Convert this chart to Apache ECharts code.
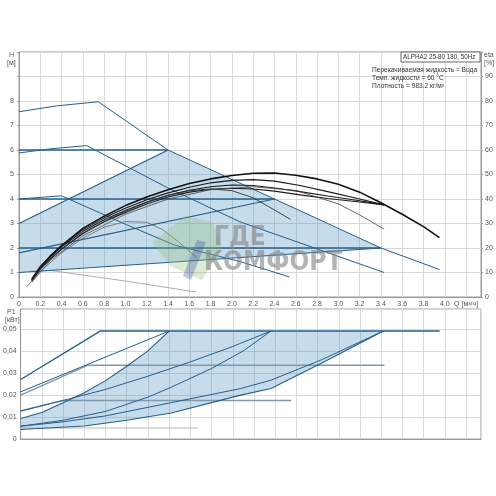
<!DOCTYPE html>
<html>
<head>
<meta charset="utf-8">
<script src="https://cdn.jsdelivr.net/npm/echarts@6/dist/echarts.min.js"></script>
<style>
  html, body { margin: 0; padding: 0; background: #fff; }
  #main { width: 496px; height: 496px; }
</style>
</head>
<body>
<div id="main"></div>
<script>
// Q in m3/h, H in m, eta in %, P1 in kW
const curveIII = [[0, 7.56], [0.35, 7.8], [0.745, 7.97], [1.4, 6.0], [3.4, 2.0], [3.95, 1.12]];
const curveII = [[0, 5.88], [0.3, 6.05], [0.635, 6.18], [1.4, 4.45], [2.075, 3.07], [3.43, 1.0]];
const curveI = [[0, 4.0], [0.4, 4.13], [1.0, 2.97], [1.46, 2.12], [2.075, 1.45], [2.54, 0.82]];
const curveMin = [[0.1, 1.05], [0.3, 1.08], [1.0, 0.65], [1.67, 0.2]];
const cp3 = [[0, 6], [1.4, 6]];
const cp2 = [[0, 4], [2.4, 4]];
const cp1 = [[0, 2], [3.4, 2]];
const pp3 = [[0, 3], [1.4, 6]];
const pp2 = [[0, 1.8], [2.4, 4.0]];
const pp1 = [[0, 1], [3.4, 2]];
const autoArea = [[0, 1], [0, 3], [1.4, 6], [3.4, 2]];

const etaIII = [[0.12, 7], [0.2, 12], [0.3, 17], [0.4, 21], [0.6, 28], [0.8, 33], [1.0, 37.3], [1.2, 40.8], [1.4, 43.8], [1.6, 46.3], [1.8, 48.2], [2.0, 49.6], [2.2, 50.5], [2.4, 50.6], [2.6, 49.7], [2.8, 48.2], [3.0, 46], [3.2, 42.8], [3.4, 38.5], [3.6, 33.8], [3.8, 28.7], [3.95, 24.2]];
const etaA = [[0.12, 7.5], [0.2, 12.5], [0.3, 17], [0.4, 21], [0.6, 27.5], [0.8, 32.3], [1.0, 36.2], [1.2, 39.7], [1.4, 42.5], [1.6, 44.8], [1.8, 46.6], [2.0, 47.6], [2.2, 47.9], [2.4, 47.3], [2.64, 45.5], [2.9, 43], [3.2, 40], [3.43, 37.6]];
const etaB = [[0.12, 7], [0.2, 12], [0.3, 16.5], [0.4, 20.5], [0.6, 26.8], [0.8, 31.5], [1.0, 35.3], [1.2, 38.8], [1.4, 41.5], [1.6, 43.6], [1.8, 45], [2.0, 45.7], [2.2, 45.5], [2.4, 44.5], [2.64, 43], [2.9, 41.2], [3.2, 39.3], [3.43, 37.6]];
const etaC = [[0.12, 6.5], [0.2, 11.5], [0.3, 15.8], [0.4, 19.6], [0.6, 26], [0.8, 30.7], [1.0, 34.5], [1.2, 38], [1.4, 40.8], [1.6, 42.8], [1.8, 44], [2.0, 44.4], [2.2, 44.1], [2.4, 43.2], [2.64, 41.7], [2.9, 40.2], [3.2, 38.8], [3.43, 37.6]];
const etaI = [[0.12, 6.5], [0.2, 11.3], [0.3, 15.6], [0.4, 19.4], [0.6, 25.8], [0.8, 30.8], [1.0, 35], [1.2, 38.6], [1.4, 41.4], [1.6, 43.4], [1.8, 44.1], [2.0, 43.4], [2.2, 40.5], [2.4, 35.5], [2.55, 31.7]];
const etaII = [[0.12, 6], [0.3, 15.2], [0.6, 25], [1.0, 33.8], [1.4, 40], [1.8, 43.8], [2.2, 45], [2.6, 43.5], [3.0, 38], [3.2, 33.5], [3.43, 27.7]];
const etaMin = [[0.07, 4], [0.2, 10.5], [0.4, 18], [0.6, 24], [0.8, 28.5], [1.0, 30.8], [1.2, 30.5], [1.35, 27.5], [1.5, 22.5], [1.67, 16]];

const pIII = [[0, 0.027], [0.75, 0.049], [3.95, 0.049]];
const pII = [[0, 0.0199], [0.635, 0.0335], [3.43, 0.0335]];
const pI = [[0, 0.0127], [0.4, 0.0175], [2.55, 0.0175]];
const pMin = [[0, 0.005], [1.67, 0.005]];
const pCp3 = [[0, 0.0214], [1.4, 0.049]];
const pPp3 = [[0, 0.0093], [0.2, 0.012], [0.4, 0.0165], [0.6, 0.021], [0.8, 0.0265], [1.0, 0.033], [1.2, 0.040], [1.4, 0.049]];
const pCp2 = [[0, 0.0127], [0.4, 0.0175], [0.8, 0.0225], [1.2, 0.0285], [1.6, 0.035], [2.0, 0.042], [2.36, 0.049]];
const pPp2 = [[0, 0.0058], [0.4, 0.0085], [0.8, 0.0125], [1.2, 0.019], [1.42, 0.0235], [1.8, 0.032], [2.1, 0.040], [2.36, 0.049]];
const pCp1 = [[0, 0.0058], [0.4, 0.0078], [0.8, 0.0105], [1.42, 0.0165], [2.075, 0.0229], [2.36, 0.0267], [2.83, 0.0358], [3.42, 0.049]];
const pPp1 = [[0, 0.0043], [0.6, 0.0059], [1.0, 0.0085], [1.42, 0.0118], [2.075, 0.0199], [2.36, 0.0229], [2.83, 0.0343], [3.42, 0.049]];
const powerArea = pPp3.concat([[3.42, 0.049]], pPp1.slice().reverse());

const blue = '#245f8c';
const fill = 'rgba(70,140,190,0.3)';
const gridCol = '#d9d9d9';
const axisCol = '#9a9a9a';
const lab = { fontSize: 7, color: '#555', fontFamily: 'Liberation Sans' };

function line(data, color, width, xi, yi, z) {
  return { type: 'line', data: data, xAxisIndex: xi, yAxisIndex: yi, symbol: 'none', silent: true,
    lineStyle: { color: color, width: width }, z: z || 3 };
}
function poly(data, xi, yi) {
  return { type: 'custom', xAxisIndex: xi, yAxisIndex: yi, data: [0], silent: true, z: 1,
    renderItem: (params, api) => ({ type: 'polygon', shape: { points: data.map(p => api.coord(p)) },
      style: { fill: fill } }) };
}
const qLabel = v => {
  const r = Math.round(v * 10) / 10;
  if (Math.abs(v - r) > 1e-6) return '';
  if (Math.abs(r - 4.2) < 1e-6) return 'Q [м³/ч]';
  return r === 0 ? '0' : r.toFixed(1);
};

const chart = echarts.init(document.getElementById('main'), null, { renderer: 'canvas' });
chart.setOption({
  animation: false,
  backgroundColor: '#fff',
  grid: [
    { left: 19, top: 52, right: 15, height: 245, show: true, borderColor: axisCol, borderWidth: 1 },
    { left: 19, top: 309, right: 15, height: 130, show: true, borderColor: axisCol, borderWidth: 1 }
  ],
  xAxis: [
    { gridIndex: 0, type: 'value', min: 0, max: 4.34, interval: 0.2,
      axisLine: { lineStyle: { color: axisCol } }, axisTick: { show: false },
      splitLine: { lineStyle: { color: gridCol } },
      axisLabel: Object.assign({ margin: 4, formatter: qLabel }, lab) },
    { gridIndex: 1, type: 'value', min: 0, max: 4.34, interval: 0.2,
      axisLine: { lineStyle: { color: axisCol } }, axisTick: { show: false },
      splitLine: { lineStyle: { color: gridCol } }, axisLabel: { show: false } }
  ],
  yAxis: [
    { gridIndex: 0, type: 'value', min: 0, max: 10, interval: 1,
      axisLine: { show: true, lineStyle: { color: axisCol } },
      axisTick: { show: true, length: 2, lineStyle: { color: axisCol } },
      splitLine: { lineStyle: { color: gridCol } },
      axisLabel: Object.assign({ margin: 5, formatter: v => (v <= 8 ? String(v) : '') }, lab) },
    { gridIndex: 0, type: 'value', position: 'right', min: 0, max: 100, interval: 10,
      axisLine: { show: true, lineStyle: { color: axisCol } },
      axisTick: { show: true, length: 2, lineStyle: { color: axisCol } },
      splitLine: { show: false },
      axisLabel: Object.assign({ margin: 4, formatter: v => (v <= 90 ? String(v) : '') }, lab) },
    { gridIndex: 1, type: 'value', min: 0, max: 0.059, interval: 0.01,
      axisLine: { show: true, lineStyle: { color: axisCol } },
      axisTick: { show: false },
      splitLine: { lineStyle: { color: gridCol } },
      axisLabel: Object.assign({ margin: 4, formatter: v => {
        const r = Math.round(v * 100) / 100;
        if (Math.abs(v - r) > 1e-7 || r > 0.05) return '';
        return r === 0 ? '0' : r.toFixed(2).replace('.', ',');
      } }, lab) }
  ],
  series: [
    poly(autoArea, 0, 0),
    poly(powerArea, 1, 2),
    line(curveIII, blue, 1, 0, 0),
    line(curveII, blue, 1, 0, 0),
    line(curveI, blue, 1, 0, 0),
    line(curveMin, '#8f9aa3', 0.8, 0, 0),
    line(cp3, blue, 1.6, 0, 0),
    line(cp2, blue, 1.6, 0, 0),
    line(cp1, blue, 1.6, 0, 0),
    line(pp3, blue, 1.2, 0, 0),
    line(pp2, blue, 1.2, 0, 0),
    line(pp1, blue, 1.2, 0, 0),
    line(etaIII, '#111', 1.6, 0, 1, 4),
    line(etaA, '#1a1a1a', 1.1, 0, 1, 4),
    line(etaB, '#1a1a1a', 1.1, 0, 1, 4),
    line(etaC, '#1a1a1a', 1.1, 0, 1, 4),
    line(etaI, '#333', 0.9, 0, 1, 4),
    line(etaII, '#444', 0.8, 0, 1, 4),
    line(etaMin, '#555', 0.7, 0, 1, 4),
    line(pIII, blue, 1.4, 1, 2),
    line(pII, '#7f98ab', 1.4, 1, 2),
    line(pI, '#7f98ab', 1.4, 1, 2),
    line(pMin, '#b8b8b8', 1.2, 1, 2),
    line(pCp3, blue, 1, 1, 2),
    line(pPp3, blue, 1.1, 1, 2),
    line(pCp2, blue, 1, 1, 2),
    line(pPp2, blue, 1, 1, 2),
    line(pCp1, blue, 1, 1, 2),
    line(pPp1, blue, 1.1, 1, 2)
  ],
  graphic: [
    { type: 'text', left: 9, top: 52, style: { text: 'H', fontSize: 7, fill: '#555', fontFamily: 'Liberation Sans' } },
    { type: 'text', left: 7, top: 60, style: { text: '[м]', fontSize: 7, fill: '#555', fontFamily: 'Liberation Sans' } },
    { type: 'text', left: 484, top: 52, style: { text: 'eta', fontSize: 7, fill: '#555', fontFamily: 'Liberation Sans' } },
    { type: 'text', left: 484, top: 60, style: { text: '[%]', fontSize: 7, fill: '#555', fontFamily: 'Liberation Sans' } },
    { type: 'text', left: 7, top: 309, style: { text: 'P1', fontSize: 7, fill: '#555', fontFamily: 'Liberation Sans' } },
    { type: 'text', left: 5, top: 317, style: { text: '[кВт]', fontSize: 7, fill: '#555', fontFamily: 'Liberation Sans' } },
    { type: 'rect', shape: { x: 401, y: 52, width: 79, height: 10 }, style: { fill: '#fff', stroke: '#444', lineWidth: 0.8 }, z: 10 },
    { type: 'text', left: 403, top: 54, z: 11, style: { text: 'ALPHA2 25-80 180, 50Hz', fontSize: 6.3, fill: '#333', fontFamily: 'Liberation Sans' } },
    { type: 'text', left: 372, top: 66, z: 11, style: { text: 'Перекачиваемая жидкость = Вода\nТемп. жидкости = 60 °C\nПлотность = 983.2 кг/м³', fontSize: 6.6, lineHeight: 8, fill: '#333', fontFamily: 'Liberation Sans' } },
    { type: 'polygon', z: 20, shape: { points: [[185, 216], [213, 222], [222, 248], [202, 280], [170, 266], [152, 242]] }, style: { fill: 'rgba(140,190,120,0.3)' } },
    { type: 'polygon', z: 20, shape: { points: [[197, 240], [206, 242], [191, 280], [183, 276]] }, style: { fill: 'rgba(70,90,170,0.35)' } },
    { type: 'text', left: 214, top: 225, z: 20, style: { text: 'ГДЕ', fontSize: 26, fontWeight: 'bold', fill: 'rgba(130,130,130,0.6)', fontFamily: 'DejaVu Sans Condensed' } },
    { type: 'text', left: 204, top: 250, z: 20, style: { text: 'КОМФОРТ', fontSize: 26, fontWeight: 'bold', fill: 'rgba(130,130,130,0.6)', fontFamily: 'DejaVu Sans Condensed' } }
  ]
});
</script>
</body>
</html>
